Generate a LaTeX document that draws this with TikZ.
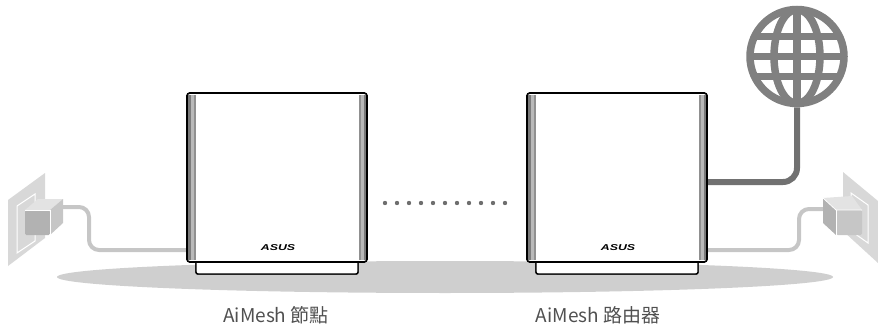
\documentclass[tikz,border=0pt]{standalone}
\usepackage{fontspec}
\newfontfamily\cjkfont{Noto Sans CJK TC}
\newfontfamily\logofont{Liberation Sans}
\usetikzlibrary{calc}

\definecolor{shadowgray}{HTML}{CFCFCF}
\definecolor{powergray}{HTML}{C6C6C6}
\definecolor{netgray}{HTML}{717171}
\definecolor{globegray}{HTML}{808080}
\definecolor{dotgray}{HTML}{6E6E6E}
\definecolor{labelgray}{HTML}{505050}
\definecolor{plategray}{HTML}{D8D8D8}
\definecolor{boxtop}{HTML}{E3E3E3}
\definecolor{boxfront}{HTML}{B2B2B2}
\definecolor{boxside}{HTML}{C6C6C6}
\definecolor{banddark}{HTML}{7A7A7A}
\definecolor{bandlight}{HTML}{B9B9B9}
\definecolor{bandmid}{HTML}{909090}

\tikzset{
  routerbody/.style={draw=black, line width=1.6pt, fill=white, rounded corners=3pt,
    minimum width=180pt, minimum height=169pt, inner sep=0pt, outer sep=0pt},
  routerbase/.style={draw=black, line width=1.4pt, fill=white, rounded corners=2pt},
  logotext/.style={font=\logofont\bfseries\itshape\fontsize{8.5}{9}\selectfont,
    xscale=1.45, inner sep=0pt},
  powercable/.style={draw=powergray, line width=4pt, rounded corners=10pt},
  netcable/.style={draw=netgray, line width=6pt, rounded corners=14pt},
  globestroke/.style={draw=globegray, line width=7.5pt},
  caption/.style={font=\cjkfont\fontsize{19}{22}\selectfont, text=labelgray, inner sep=0pt},
  meshdot/.style={fill=dotgray},
  meshrouter/.pic={
    % stand under the housing
    \draw[routerbase] (-81,84.5) -- (-81,96.5) -- (81,96.5) -- (81,84.5);
    % housing
    \node[routerbody] (-body) at (0,0) {};
    % vented side panels
    \fill[banddark]  (-89,-82) rectangle (-86.5,82);
    \fill[bandlight] (-86.5,-82) rectangle (-83.5,82);
    \fill[bandmid]   (-83.5,-82) rectangle (-81.5,82);
    \fill[banddark]  (89,-82) rectangle (86.5,82);
    \fill[bandlight] (86.5,-82) rectangle (83.5,82);
    \fill[bandmid]   (83.5,-82) rectangle (81.5,82);
    % brand mark
    \node[logotext] (-logo) at (1,70.5) {ASUS};
  }
}

\begin{document}
\begin{tikzpicture}[x=1pt,y=-1pt]
\useasboundingbox (0,0) rectangle (878,326);

% floor shadow
\fill[shadowgray] (445,277) ellipse[x radius=388, y radius=16];

% cable end points on the adapters
\coordinate (plugL) at (63,207);
\coordinate (plugR) at (823,209);

% globe anchor
\node[circle, minimum size=102pt, inner sep=0pt, outer sep=0pt] (globe) at (797,56.5) {};

% routers (drawn later, placed now for cable routing)
\path (277,177.5) pic (nodeA) {meshrouter};
\path (617,177.5) pic (nodeB) {meshrouter};

% cables
\draw[powercable] (plugL) -- ++(26,0) |- ($(nodeA-body.south west)+(0,-12)$);
\draw[powercable] (plugR) -- ++(-24,0) |- ($(nodeB-body.south east)+(0,-12)$);
\draw[netcable] (globe.south) |- ($(nodeB-body.east)+(0,4.5)$);

% redraw routers above the cables
\path (277,177.5) pic (routerA) {meshrouter};
\path (617,177.5) pic (routerB) {meshrouter};

% left wall socket and adapter
\fill[plategray] (8,200) -- (45,173) -- (45,238) -- (8,266) -- cycle;
\draw[white, line width=1pt] (17,206) -- (35,194) -- (35,241) -- (17,253) -- cycle;
\fill[boxtop] (25,210) -- (50,210) -- (63,199) -- (38,199) -- cycle;
\fill[boxside] (50,210) -- (63,199) -- (63,223) -- (50,235) -- cycle;
\fill[boxfront, rounded corners=1.5pt] (25,210) rectangle (50,235);
\draw[white, line width=0.8pt] (25,210) -- (50,210) -- (50,235);

% right wall socket and adapter
\fill[plategray] (843,172) -- (878,201) -- (878,263) -- (843,231) -- cycle;
\draw[white, line width=1pt] (851,193) -- (868,205) -- (868,243) -- (851,231) -- cycle;
\fill[boxtop] (823,198) -- (852,196) -- (862,210) -- (836,210) -- cycle;
\fill[boxfront] (823,198) -- (836,210) -- (836,235) -- (823,223) -- cycle;
\fill[boxside, rounded corners=1.5pt] (836,210) rectangle (862,235);
\draw[white, line width=0.8pt] (823,198) -- (836,210) -- (862,210);
\draw[white, line width=0.8pt] (836,210) -- (836,235);

% globe
\begin{scope}[shift={(globe.center)}]
  \draw[globestroke] (0,0) circle[radius=47];
  \begin{scope}
    \clip (0,0) circle[radius=47];
    \draw[globestroke] (-50,-20) -- (50,-20) (-50,0) -- (50,0) (-50,20) -- (50,20) (0,-50) -- (0,50);
    \draw[globestroke] (0,0) ellipse[x radius=23, y radius=47];
  \end{scope}
\end{scope}

% mesh link
\foreach \i in {0,...,10}
  \fill[meshdot] (385+12*\i,203) circle[radius=2.2];

% captions
\node[caption] (capA) at (276,315) {AiMesh 節點};
\node[caption] (capB) at (598,315) {AiMesh 路由器};
\end{tikzpicture}
\end{document}
